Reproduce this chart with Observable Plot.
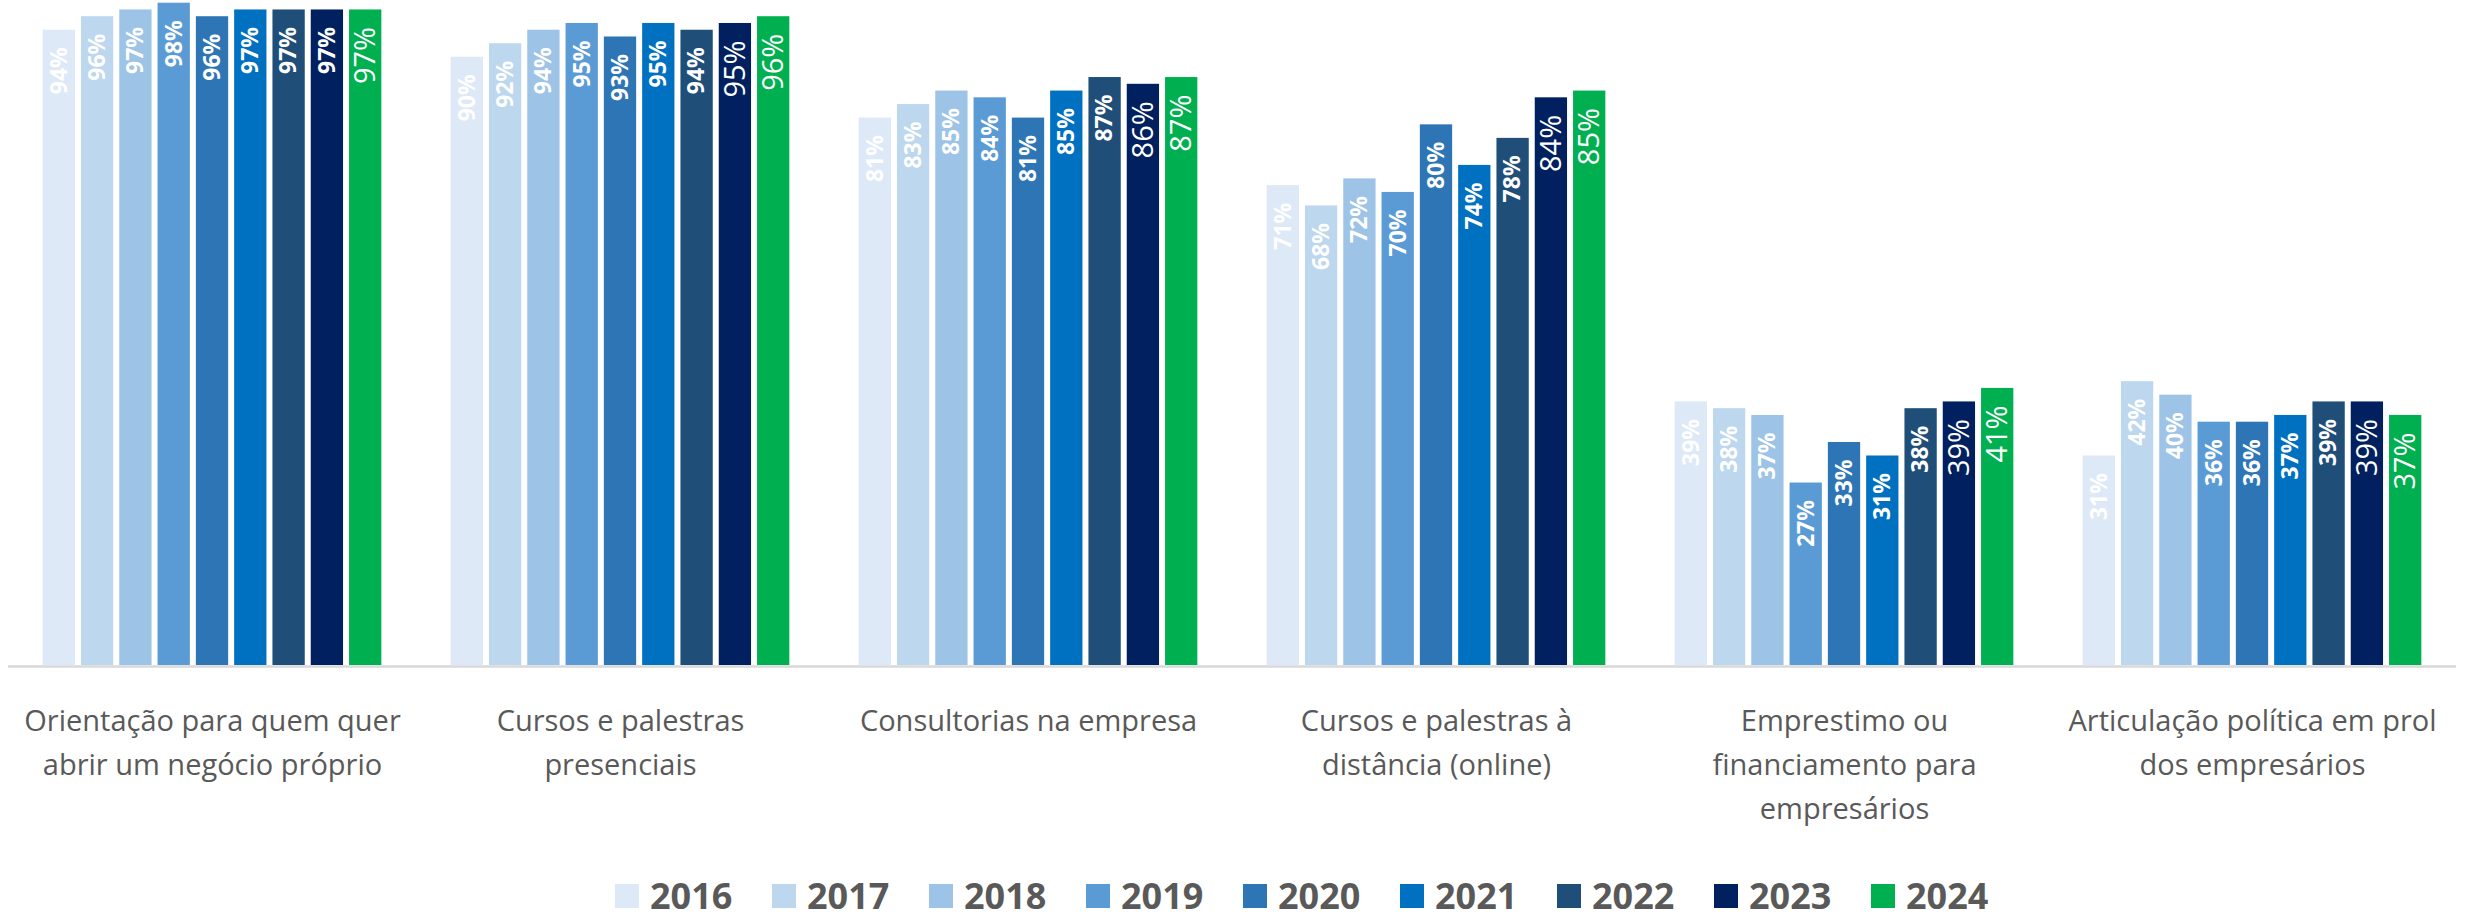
<!DOCTYPE html>
<html>
<head>
<meta charset="utf-8">
<script src="https://cdn.jsdelivr.net/npm/d3@7"></script>
<script src="https://cdn.jsdelivr.net/npm/@observablehq/plot@0.6"></script>
<style>
  html, body { margin: 0; padding: 0; background: #fff; width: 2468px; height: 918px; overflow: hidden; }
  #chart { position: absolute; left: 0; top: 0; }
  #legend { position: absolute; left: 615px; top: 876px; height: 40px; line-height: 40px; display: flex; align-items: center;
            font-family: "Open Sans", sans-serif; font-weight: 700; font-size: 36px; color: #595959; }
  .item { display: flex; align-items: center; width: 157px; height: 40px; }
  .sw { width: 24px; height: 24px; margin-right: 11px; flex: none; }
</style>
</head>
<body>
<div id="chart"></div>
<div id="legend"></div>
<script>
// ---- data ----
const categories = [
  "Orientação para quem quer abrir um negócio próprio",
  "Cursos e palestras presenciais",
  "Consultorias na empresa",
  "Cursos e palestras à distância (online)",
  "Emprestimo ou financiamento para empresários",
  "Articulação política em prol dos empresários"
];
const categoryLabels = [
  "Orientação para quem quer\nabrir um negócio próprio",
  "Cursos e palestras\npresenciais",
  "Consultorias na empresa",
  "Cursos e palestras à\ndistância (online)",
  "Emprestimo ou\nfinanciamento para\nempresários",
  "Articulação política em prol\ndos empresários"
];
const years = ["2016", "2017", "2018", "2019", "2020", "2021", "2022", "2023", "2024"];
const yearColors = ["#dde9f6", "#bdd7ee", "#9dc3e6", "#5b9bd5", "#2e75b6", "#0070c0", "#1f4e79", "#002060", "#00b050"];

const orientacao = [94, 96, 97, 98, 96, 97, 97, 97, 97];
const cursosPresenciais = [90, 92, 94, 95, 93, 95, 94, 95, 96];
const consultorias = [81, 83, 85, 84, 81, 85, 87, 86, 87];
const cursosOnline = [71, 68, 72, 70, 80, 74, 78, 84, 85];
const emprestimo = [39, 38, 37, 27, 33, 31, 38, 39, 41];
const articulacao = [31, 42, 40, 36, 36, 37, 39, 39, 37];

const seriesByCategory = [orientacao, cursosPresenciais, consultorias, cursosOnline, emprestimo, articulacao];

const rows = [];
categories.forEach((c, i) => {
  years.forEach((y, j) => rows.push({category: c, year: y, value: seriesByCategory[i][j]}));
});
const labelOf = new Map(categories.map((c, i) => [c, categoryLabels[i]]));
const isBold = d => (+d.year <= 2022) || (d.category === categories[0] && d.year === "2023");

const chart = Plot.plot({
  width: 2468,
  height: 840,
  marginTop: 0,
  marginBottom: 175,
  marginLeft: 7,
  marginRight: 11,
  style: {fontFamily: "Open Sans, sans-serif", background: "white"},
  fx: {domain: categories, paddingInner: 0, paddingOuter: 0, axis: null, label: null},
  x: {domain: years, paddingInner: 0.157, paddingOuter: 0.905, axis: null, round: false},
  y: {domain: [0, 98.4], axis: null},
  color: {domain: years, range: yearColors},
  marks: [
    Plot.ruleY([0], {stroke: "#d9d9d9", strokeWidth: 2.5, dy: 1}),
    Plot.barY(rows, {fx: "category", x: "year", y: "value", fill: "year"}),
    Plot.text(rows.filter(isBold), {
      fx: "category", x: "year", y: "value", text: d => d.value + "%",
      rotate: -90, textAnchor: "end", dy: 17, fill: "white",
      fontWeight: "bold", fontSize: 23
    }),
    Plot.text(rows.filter(d => !isBold(d)), {
      fx: "category", x: "year", y: "value", text: d => d.value + "%",
      rotate: -90, textAnchor: "end", dy: 17, fill: "white",
      fontWeight: "normal", fontSize: 29
    }),
    Plot.text(categories, {
      fx: d => d, text: d => labelOf.get(d),
      frameAnchor: "bottom", lineAnchor: "top", dy: 34,
      fontSize: 29, lineHeight: 1.52, fill: "#595959"
    })
  ]
});
document.getElementById("chart").appendChild(chart);

const legend = document.getElementById("legend");
years.forEach((y, i) => {
  const it = document.createElement("div");
  it.className = "item";
  const sw = document.createElement("span");
  sw.className = "sw";
  sw.style.background = yearColors[i];
  const t = document.createElement("span");
  t.textContent = y;
  it.appendChild(sw);
  it.appendChild(t);
  legend.appendChild(it);
});
</script>
</body>
</html>
